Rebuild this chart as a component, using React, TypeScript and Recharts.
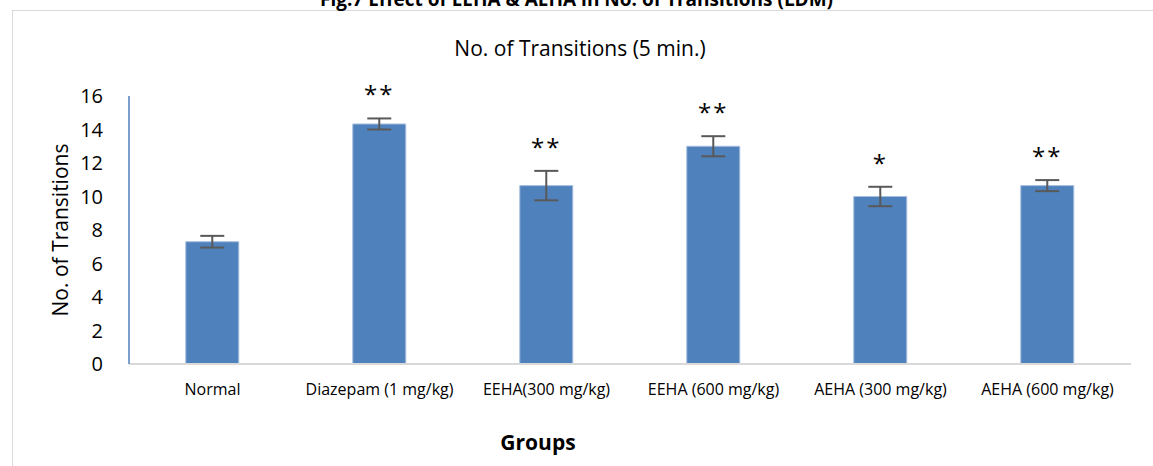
import React from 'react';
import { BarChart, Bar, XAxis, YAxis, ErrorBar, LabelList } from 'recharts';

const groups = ['Normal', 'Diazepam (1 mg/kg)', 'EEHA(300 mg/kg)', 'EEHA (600 mg/kg)', 'AEHA (300 mg/kg)', 'AEHA (600 mg/kg)'];
const transitions = [7.3, 14.33, 10.65, 13.0, 10.0, 10.65];
const sem = [0.35, 0.33, 0.88, 0.6, 0.58, 0.33];
const significance = ['', '**', '**', '**', '*', '**'];
const yTicks = [0, 2, 4, 6, 8, 10, 12, 14, 16];

const data = groups.map((g, i) => ({ group: g, value: transitions[i], err: sem[i], sig: significance[i] }));

const FONT = "'Liberation Sans Narrow', 'Open Sans', sans-serif";
const PLOT_H = 268;
const Y_MAX = 16;

// stars sit above the top of each error bar
const StarLabel = (props: any) => {
  const { x, y, width, index } = props;
  const sig = significance[index];
  if (!sig) return null;
  const errTop = y - (sem[index] * PLOT_H) / Y_MAX;
  return (
    <text x={x + width / 2} y={errTop - 15} textAnchor="middle" fontSize={24} fill="#000" fontFamily={FONT} letterSpacing={2}>
      {sig}
    </text>
  );
};

export default function App() {
  return (
    <div style={{ position: 'absolute', left: 0, top: 0, width: 1153, height: 466, overflow: 'hidden', background: '#fff', fontFamily: FONT }}>
      <div style={{ position: 'absolute', left: 12, top: 10, width: 1160, height: 480, border: '1px solid #d9d9d9' }} />
      <div style={{ position: 'absolute', left: 0, width: 1153, top: -14, textAlign: 'center', fontSize: 19, fontWeight: 'bold', color: '#000' }}>
        Fig.7 Effect of EEHA &amp; AEHA in No. of Transitions (LDM)
      </div>
      <div style={{ position: 'absolute', left: 0, width: 1160, top: 34, textAlign: 'center', fontSize: 21, color: '#000' }}>
        No. of Transitions (5 min.)
      </div>
      <div style={{ position: 'absolute', left: 0, width: 1076, top: 428, textAlign: 'center', fontSize: 21, fontWeight: 'bold', color: '#000' }}>
        Groups
      </div>
      <BarChart width={1153} height={466} data={data} margin={{ top: 96, right: 22, bottom: 0, left: 69 }} barCategoryGap="34%" style={{ position: 'absolute', left: 0, top: 0 }}>
        <XAxis
          dataKey="group"
          axisLine={{ stroke: '#d9d9d9', strokeWidth: 2 }}
          tickLine={false}
          interval={0}
          height={102}
          tick={{ fontSize: 16, fill: '#000', fontFamily: FONT }}
          tickMargin={14}
        />
        <YAxis
          domain={[0, Y_MAX]}
          ticks={yTicks}
          width={60}
          axisLine={{ stroke: '#4f81bd', strokeWidth: 1.5 }}
          tickLine={false}
          tick={{ fontSize: 20, fill: '#000', fontFamily: FONT }}
          tickMargin={20}
          label={{ value: 'No. of Transitions', angle: -90, position: 'insideLeft', offset: -8, style: { textAnchor: 'middle', fontSize: 21, fill: '#000', fontFamily: FONT } }}
        />
        <Bar dataKey="value" fill="#4f81bd" stroke="#a7bfdf" strokeWidth={1} isAnimationActive={false}>
          <ErrorBar dataKey="err" width={12} strokeWidth={2} stroke="#595959" direction="y" />
          <LabelList dataKey="sig" content={StarLabel} />
        </Bar>
      </BarChart>
    </div>
  );
}
